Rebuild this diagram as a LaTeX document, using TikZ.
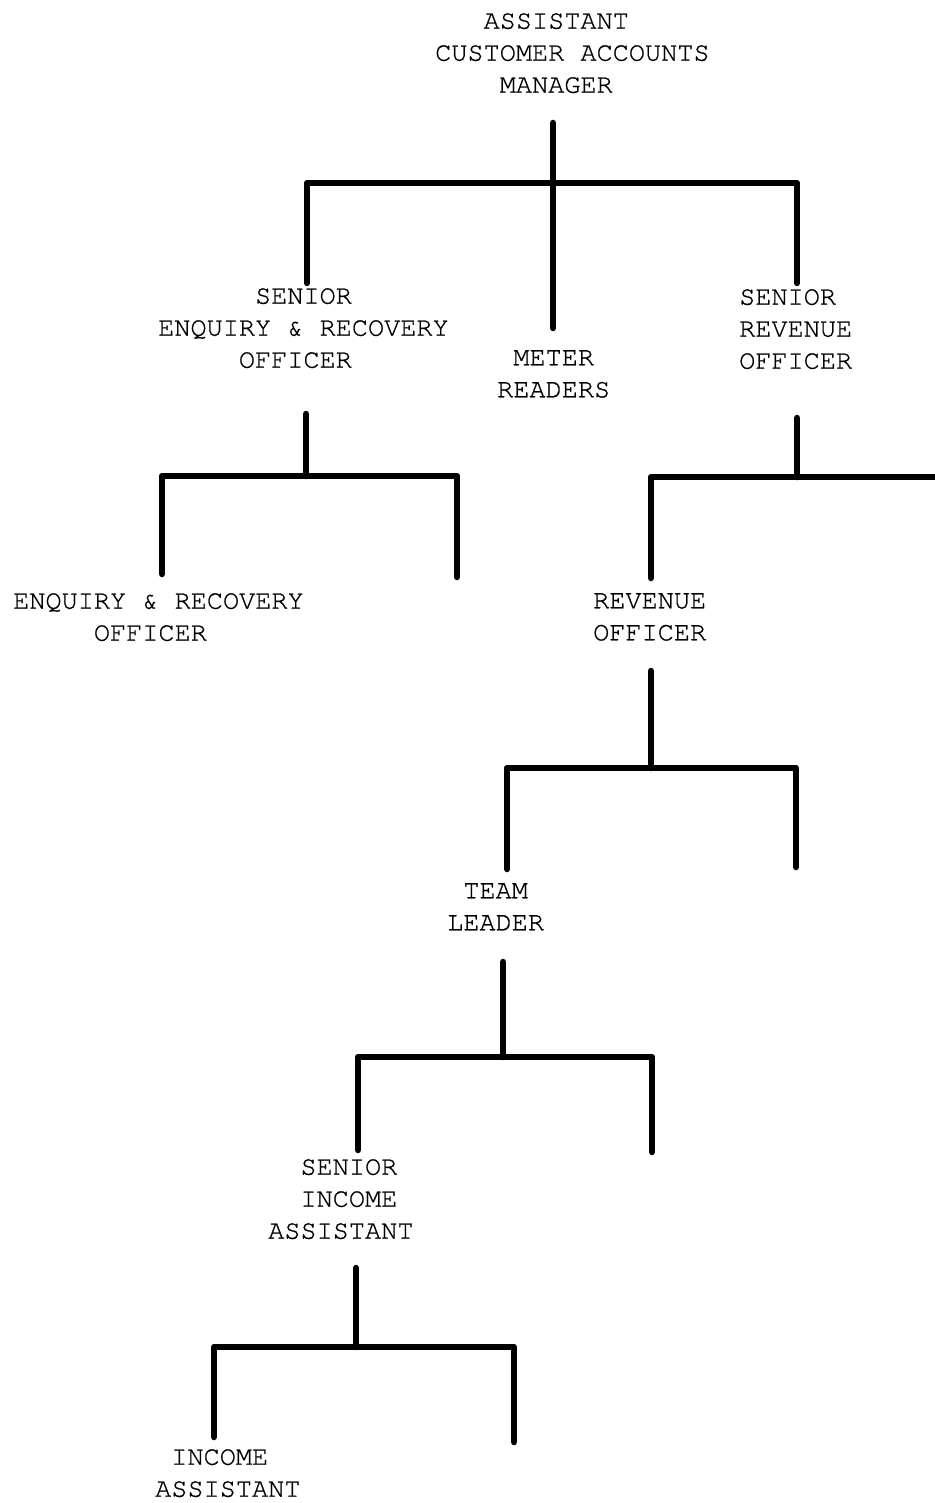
\documentclass[tikz,border=0pt]{standalone}
\usepackage{fontspec}
\newfontfamily\typewr[FakeBold=0.8]{TeX Gyre Cursor}
\tikzset{
  post/.style={font=\typewr\fontsize{26.9}{32}\selectfont, align=left,
               anchor=north west, inner sep=0pt},
  link/.style={line width=6.5pt, line cap=round, line join=round},
}
% leading blanks of a typed line, one character wide each
\newcommand\ind[1]{\hphantom{#1}}
\begin{document}
\begin{tikzpicture}[x=1pt,y=-1pt]
  \useasboundingbox (0,0) rectangle (934,1503);

  % posts
  \node[post] (mgr) at (435,13)   {\ind{MMM}ASSISTANT\\CUSTOMER ACCOUNTS\\\ind{MMMM}MANAGER};
  \node[post] (ser) at (158,288)  {\ind{MMMMMM}SENIOR\\ENQUIRY \& RECOVERY\\\ind{MMMMM}OFFICER};
  \node[post] (mtr) at (497,350)  {\ind{M}METER\\READERS};
  \node[post] (sro) at (739,289)  {SENIOR\\REVENUE\\OFFICER};
  \node[post] (ero) at (13,593)   {ENQUIRY \& RECOVERY\\\ind{MMMMM}OFFICER};
  \node[post] (rvo) at (593,593)  {REVENUE\\OFFICER};
  \node[post] (tml) at (447,883)  {\ind{M}TEAM\\LEADER};
  \node[post] (sia) at (268,1159) {\ind{MM}SENIOR\\\ind{MM}INCOME\\ASSISTANT};
  \node[post] (ina) at (155,1449) {\ind{M}INCOME\\ASSISTANT};

  % joints of the reporting lines
  \coordinate (mgr-s) at (553,123);  \coordinate (mgr-b) at (553,183);
  \coordinate (mtr-t) at (553,328);
  \coordinate (ser-t) at (307,283);  \coordinate (sro-t) at (797,283);

  \coordinate (ser-s) at (306,414);  \coordinate (ser-b) at (306,476);
  \coordinate (ero-t) at (162,574);  \coordinate (ser-r) at (457,577);

  \coordinate (sro-s) at (797,418);  \coordinate (sro-b) at (797,477);
  \coordinate (rvo-t) at (651,578);  \coordinate (sro-r) at (936,477);

  \coordinate (rvo-s) at (651,671);  \coordinate (rvo-b) at (651,768);
  \coordinate (tml-t) at (507,869);  \coordinate (rvo-r) at (796,867);

  \coordinate (tml-s) at (503,962);  \coordinate (tml-b) at (503,1057);
  \coordinate (sia-t) at (358,1150); \coordinate (tml-r) at (652,1152);

  \coordinate (sia-s) at (356,1268); \coordinate (sia-b) at (356,1347);
  \coordinate (ina-t) at (214,1437); \coordinate (sia-r) at (514,1442);

  % reporting lines
  \draw[link] (mgr-s) -- (mtr-t);
  \draw[link] (ser-t) |- (mgr-b) -| (sro-t);

  \draw[link] (ser-s) -- (ser-b);
  \draw[link] (ero-t) |- (ser-b) -| (ser-r);

  \draw[link] (sro-s) -- (sro-b);
  \draw[link] (rvo-t) |- (sro-b) -- (sro-r);

  \draw[link] (rvo-s) -- (rvo-b);
  \draw[link] (tml-t) |- (rvo-b) -| (rvo-r);

  \draw[link] (tml-s) -- (tml-b);
  \draw[link] (sia-t) |- (tml-b) -| (tml-r);

  \draw[link] (sia-s) -- (sia-b);
  \draw[link] (ina-t) |- (sia-b) -| (sia-r);
\end{tikzpicture}
\end{document}
